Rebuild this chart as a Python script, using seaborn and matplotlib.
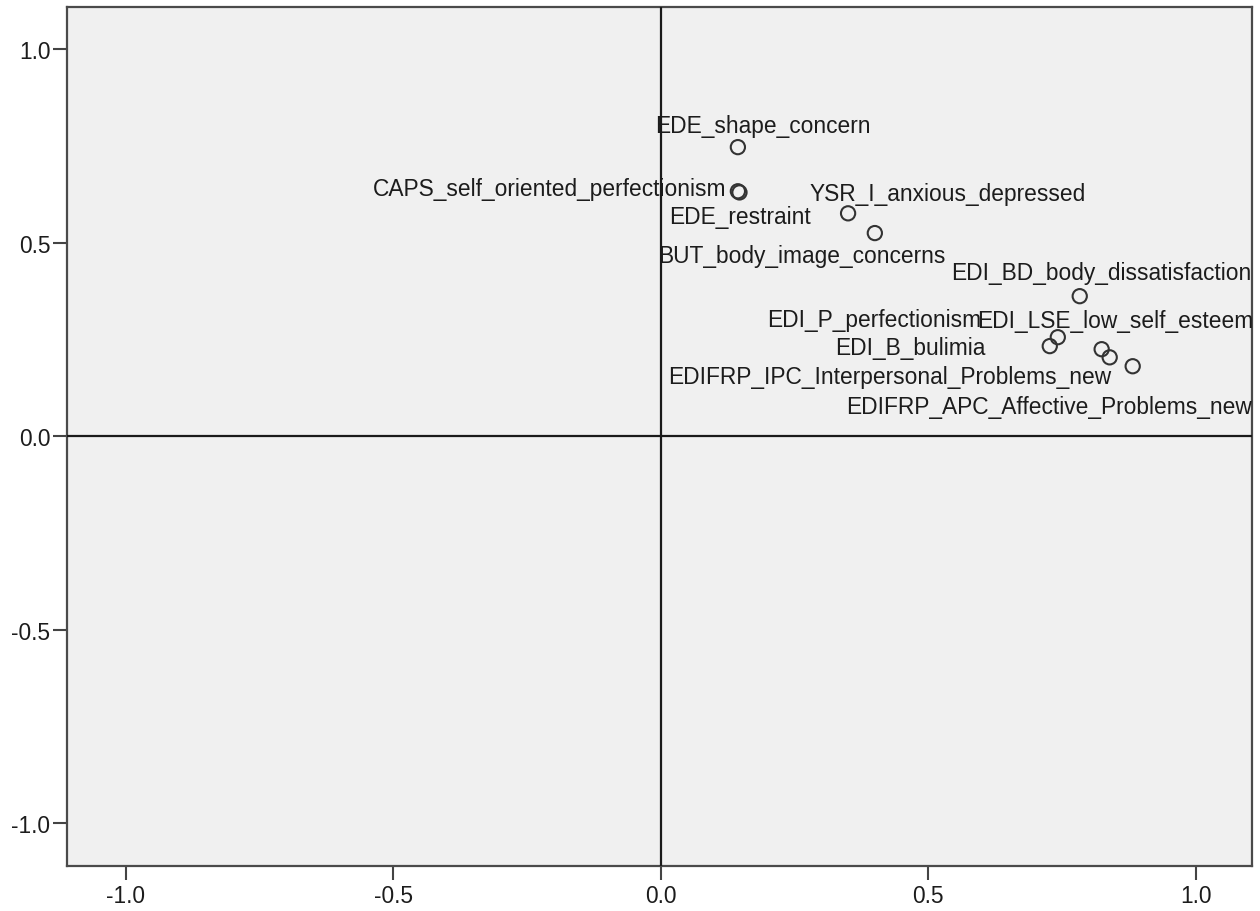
import matplotlib
matplotlib.use("Agg")
import matplotlib.pyplot as plt
import seaborn as sns
import pandas as pd

# Component loadings (component 1 on x, component 2 on y)
variables = [
    "EDE_shape_concern",
    "CAPS_self_oriented_perfectionism",
    "EDE_restraint",
    "YSR_I_anxious_depressed",
    "BUT_body_image_concerns",
    "EDI_BD_body_dissatisfaction",
    "EDI_P_perfectionism",
    "EDI_LSE_low_self_esteem",
    "EDI_B_bulimia",
    "EDIFRP_IPC_Interpersonal_Problems_new",
    "EDIFRP_APC_Affective_Problems_new",
]
component_1 = [0.144, 0.144, 0.147, 0.350, 0.400, 0.783, 0.742, 0.824, 0.727, 0.839, 0.882]
component_2 = [0.747, 0.633, 0.630, 0.576, 0.525, 0.362, 0.256, 0.225, 0.233, 0.204, 0.181]

tick_values = [-1.0, -0.5, 0.0, 0.5, 1.0]
tick_labels = ["-1.0", "-0.5", "0.0", "0.5", "1.0"]

# label placement: (dx, dy) in pixels from the point, horizontal alignment
label_offsets = [
    (-83, 15, "left"),
    (-12, -4, "right"),
    (-70, -31, "left"),
    (-39, 13, "left"),
    (-217, -29, "left"),
    (-129, 17, "left"),
    (-291, 11, "left"),
    (-125, 22, "left"),
    (-215, -8, "left"),
    (-442, -26, "left"),
    (-287, -47, "left"),
]

df = pd.DataFrame({"variable": variables, "c1": component_1, "c2": component_2})

sns.set_style("white")
plt.rcParams["font.family"] = ["Liberation Sans", "DejaVu Sans"]

FS = 16.4
fig = plt.figure(figsize=(12.6, 9.12), dpi=100)
fig.patch.set_facecolor("white")
ax = fig.add_axes([67 / 1260, 1 - 867 / 912, (1252 - 67) / 1260, (867 - 8) / 912])
ax.set_facecolor("#f0f0f0")

ax.axhline(0, color="#1a1a1a", lw=1.6, zorder=4)
ax.axvline(0, color="#1a1a1a", lw=1.6, zorder=4)

sns.scatterplot(data=df, x="c1", y="c2", ax=ax, marker="o", s=105,
                facecolor="none", edgecolor="#333333", linewidth=1.5,
                zorder=5, legend=False)

for name, x, y, (dx, dy, ha) in zip(variables, component_1, component_2, label_offsets):
    ax.annotate(name, (x, y), xytext=(dx, dy), textcoords="offset pixels",
                ha=ha, va="baseline", fontsize=FS, color="#1c1c1c",
                zorder=3, annotation_clip=False, clip_on=True)

ax.set_xlim(-1.11, 1.105)
ax.set_ylim(-1.11, 1.109)
ax.set_xticks(tick_values)
ax.set_xticklabels(tick_labels)
ax.set_yticks(tick_values)
ax.set_yticklabels(tick_labels)
ax.set_xlabel("")
ax.set_ylabel("")
ax.tick_params(axis="both", direction="out", length=10, width=1.5, color="#444444",
               labelsize=FS, labelcolor="#1c1c1c", bottom=True, left=True)
ax.tick_params(axis="x", pad=3)
ax.tick_params(axis="y", pad=2)

for side in ["left", "right", "top", "bottom"]:
    ax.spines[side].set_visible(True)
    ax.spines[side].set_color("#4a4a4a")
    ax.spines[side].set_linewidth(1.6)

fig.savefig("out.png", dpi=100, facecolor="white")
